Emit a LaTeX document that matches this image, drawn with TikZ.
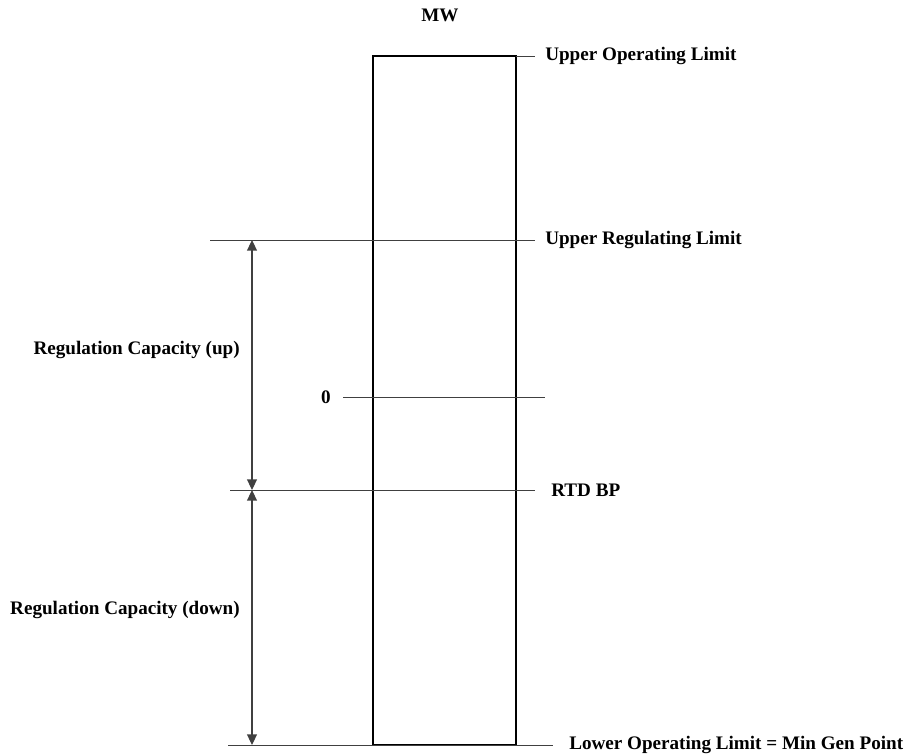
\documentclass[tikz,border=0pt]{standalone}
\usepackage{fontspec}
\setmainfont{Liberation Serif}
\usetikzlibrary{arrows.meta,positioning}
\tikzset{
    lim/.style={draw=black!75, line width=0.7pt},
    lbl/.style={font=\bfseries\fontsize{13.6}{15}\selectfont, inner sep=0pt},
    capa/.style={black!75, line width=0.8pt, {Triangle[length=7.5pt,width=7pt]}-{Triangle[length=7.5pt,width=7pt]}}
}
\begin{document}
\begin{tikzpicture}[x=0.025cm,y=-0.025cm]
\useasboundingbox (0,0) rectangle (908,756);
% unit box
\draw[line width=1.4pt] (373,56) rectangle (516,745);
\node[lbl] (mw) at (440,15) {MW};
% limit lines
\coordinate (uolA) at (516,56); \coordinate (uolB) at (535,56);
\draw[lim] (uolA) -- (uolB);
\node[lbl, anchor=west] (uol) at (545,56) {Upper Operating Limit};
\coordinate (urlA) at (210,240); \coordinate (urlB) at (535,240);
\draw[lim] (urlA) -- (urlB);
\node[lbl, anchor=west] (url) at (545,240) {Upper Regulating Limit};
\node[lbl, anchor=east] (zero) at (331,397) {0};
\coordinate (zeroB) at (545,397);
\draw[lim] (zero.east) ++(12,0) coordinate (zeroA) -- (zeroB);
\coordinate (rtdA) at (230,490); \coordinate (rtdB) at (535,490);
\draw[lim] (rtdA) -- (rtdB);
\node[lbl, anchor=west] (rtd) at (551,490) {RTD BP};
\coordinate (lolA) at (228,745); \coordinate (lolB) at (553,745);
\draw[lim] (lolA) -- (lolB);
\node[lbl, anchor=west] (lol) at (569,745) {Lower Operating Limit = Min Gen Point};
% regulation capacity
\coordinate (capTop) at (252,240); \coordinate (capMid) at (252,490); \coordinate (capBot) at (252,745);
\draw[capa] (capTop) -- (capMid);
\draw[capa] (capMid) -- (capBot);
\node[lbl, anchor=east] (capup) at (240,350) {Regulation Capacity (up)};
\node[lbl, anchor=east] (capdn) at (240,610) {Regulation Capacity (down)};
\end{tikzpicture}
\end{document}
